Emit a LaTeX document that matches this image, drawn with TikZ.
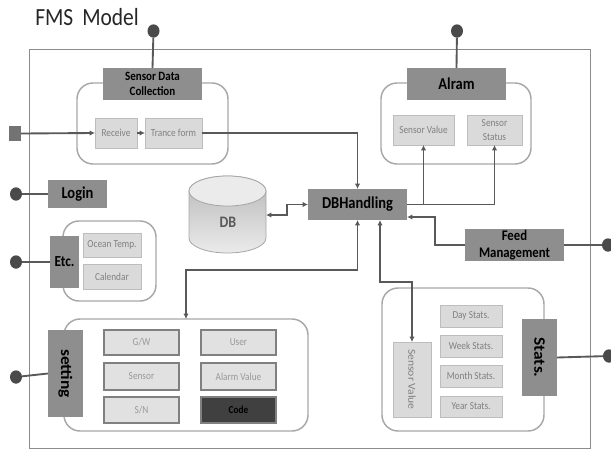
\documentclass[tikz,border=0pt]{standalone}
\usepackage{fontspec}
\setmainfont[FakeStretch=0.87]{Carlito}
\usetikzlibrary{arrows.meta,calc,shapes.geometric}
\definecolor{hdr}{HTML}{8E8E8E}
\definecolor{lite}{HTML}{DADADA}
\definecolor{liteb}{HTML}{BDBDBD}
\definecolor{txt}{HTML}{808080}
\definecolor{grp}{HTML}{A8A8A8}
\definecolor{lin}{HTML}{595959}
\definecolor{dot}{HTML}{4A4A4A}
\tikzset{
  x=0.75pt,y=-0.75pt,
  frameline/.style={draw=black!45,line width=0.6pt},
  groupbox/.style={draw=grp,line width=1.1pt,rounded corners=12pt,fill=white},
  basebox/.style={inner sep=0pt,outer sep=0pt,align=center},
  header/.style={basebox,fill=hdr,font=\bfseries\fontsize{9.5}{11.5}\selectfont,text=black},
  item/.style={basebox,fill=lite,draw=liteb,line width=0.6pt,text=txt,font=\fontsize{8}{10}\selectfont},
  setitem/.style={basebox,fill=lite!80!white,draw=black!50,line width=1pt,text=black!40,font=\fontsize{8}{10}\selectfont},
  dotnode/.style={ellipse,fill=dot,inner sep=0pt,outer sep=0pt,minimum width=9pt,minimum height=10pt},
  conn/.style={draw=lin,line width=1.4pt},
  arr/.style={conn,-{Latex[length=4pt,width=4pt]}},
  arrb/.style={conn,{Latex[length=4pt,width=4pt]}-{Latex[length=4pt,width=4pt]}},
}
% name, style, x1, y1, x2, y2, text
\newcommand{\pxbox}[7]{\node[#2,minimum width={(#5-#3)*0.75pt},minimum height={(#6-#4)*0.75pt}] (#1) at ({(#3+#5)/2},{(#4+#6)/2}) {#7};}
\begin{document}
\begin{tikzpicture}
\useasboundingbox (0,0) rectangle (611,450);
\node[inner sep=0pt,anchor=west,text=black!85,font=\fontsize{18.5}{22}\selectfont] (title) at (35,17) {FMS\, Model};
\draw[frameline] (29.5,49.5) rectangle (590,448);

% group outlines
\draw[groupbox] (77,83) rectangle (228,164);
\draw[groupbox] (381,83) rectangle (531,164);
\draw[groupbox] (63,221) rectangle (156,301);
\draw[groupbox] (64,319) rectangle (308,431);
\draw[groupbox] (382,288) rectangle (544,431);

% DB cylinder
\draw[draw=black!35,line width=0.6pt,top color=black!28,bottom color=black!8]
  (189,191) -- (189,238) arc[start angle=180,end angle=0,x radius=38.5,y radius=15]
  -- (266,191) arc[start angle=0,end angle=-180,x radius=38.5,y radius=15] -- cycle;
\draw[draw=black!35,line width=0.6pt,fill=black!8]
  (189,191) arc[start angle=180,end angle=540,x radius=38.5,y radius=15];
\node[text=black!65,font=\bfseries\fontsize{12}{14}\selectfont] (db) at (228,222) {DB};
\coordinate (dbport) at (266,215);
\coordinate (dbmid) at (287,215);

% headers
\pxbox{sdc}{header}{103}{68}{202}{100}{Sensor Data\\Collection}
\pxbox{alarm}{header,font=\bfseries\fontsize{12.5}{15}\selectfont}{407}{68}{506}{100}{Alram}
\pxbox{login}{header,font=\bfseries\fontsize{12.5}{15}\selectfont}{48}{180}{107}{208}{Login}
\pxbox{etc}{header,font=\bfseries\fontsize{11.5}{14}\selectfont}{50}{236}{79}{288}{Etc.}
\pxbox{dbh}{header,font=\bfseries\fontsize{12.5}{15}\selectfont}{308}{189}{407}{220}{DBHandling}
\pxbox{feed}{header,font=\bfseries\fontsize{11}{13}\selectfont}{465}{229}{564}{261}{Feed\\Management}
\pxbox{setting}{header,font=\bfseries\fontsize{12}{14}\selectfont}{48}{330}{83}{417}{\rotatebox{-90}{\scalebox{1.25}[1]{setting}}}
\pxbox{stats}{header,font=\bfseries\fontsize{12}{14}\selectfont}{522}{319}{557}{396}{\rotatebox{-90}{\scalebox{1.25}[1]{Stats.}}}

% light items
\pxbox{recv}{item}{95}{118}{137}{148}{Receive}
\pxbox{tf}{item}{145}{118}{202}{148}{Trance form}
\pxbox{asv}{item}{393}{115}{454}{145}{Sensor Value}
\pxbox{ass}{item}{467}{115}{522}{145}{Sensor\\Status}
\pxbox{ocean}{item}{83}{233}{141}{257}{Ocean Temp.}
\pxbox{cal}{item}{83}{264}{141}{289}{Calendar}
\pxbox{gw}{setitem}{104}{330}{179}{355}{G/W}
\pxbox{user}{setitem}{201}{330}{276}{355}{User}
\pxbox{sensor}{setitem}{104}{363}{179}{390}{Sensor}
\pxbox{alval}{setitem}{201}{363}{276}{390}{Alarm Value}
\pxbox{sn}{setitem}{104}{397}{179}{423}{S/N}
\pxbox{code}{setitem,fill=black!75,text=black,font=\bfseries\fontsize{8}{10}\selectfont}{201}{397}{276}{423}{Code}
\pxbox{ssv}{item}{393}{342}{431}{417}{\rotatebox{-90}{\scalebox{1.25}[1]{Sensor Value}}}
\pxbox{day}{item}{440}{305}{502}{327}{Day Stats.}
\pxbox{week}{item}{440}{335}{502}{357}{Week Stats.}
\pxbox{month}{item}{440}{365}{502}{387}{Month Stats.}
\pxbox{year}{item}{440}{396}{502}{417}{Year Stats.}

% terminals
\pxbox{inport}{basebox,fill=black!55}{9}{126}{21}{141}{}
\node[dotnode] (d1) at (153.5,31) {};
\node[dotnode] (d2) at (457,31) {};
\node[dotnode] (d3) at (16,194) {};
\node[dotnode] (d4) at (16,262) {};
\node[dotnode] (d5) at (16,377) {};
\node[dotnode] (d6) at (608,245) {};
\node[dotnode] (d7) at (609,356) {};

% plain connectors
\draw[conn] (d1) -- (sdc.north);
\draw[conn] (d2) -- (alarm.north);
\draw[conn] (d3) -- (login.west);
\draw[conn] (d4) -- (etc.west);
\draw[conn] (d5) -- (setting.west);
\draw[conn] (d6) -- (feed.east);
\draw[conn] (d7) -- (stats.east);

% arrows
\draw[arr] (inport.east) -- (recv.west);
\draw[arr] (recv.east) -- (tf.west);
\draw[arr] (tf.east) -| (dbh.north);
\draw[arr] (dbh.east) -| (asv.south);
\draw[arr] (dbh.east) -| (ass.south);
\draw[arr] (feed.west) -- ++(-30,0) |- ($(dbh.south east)+(0,-3)$);
\coordinate (setup) at (357.5,220);
\coordinate (setdown) at (186,319);
\draw[arrb] (setup) -- (357.5,270) -| (setdown);
\coordinate (stup) at (380,220);
\coordinate (stdown) at (412,342);
\draw[arrb] (stup) -- (380,282) -| (stdown);
\draw[arrb] (dbport) -- (dbmid) |- (dbh.west);
\end{tikzpicture}
\end{document}
